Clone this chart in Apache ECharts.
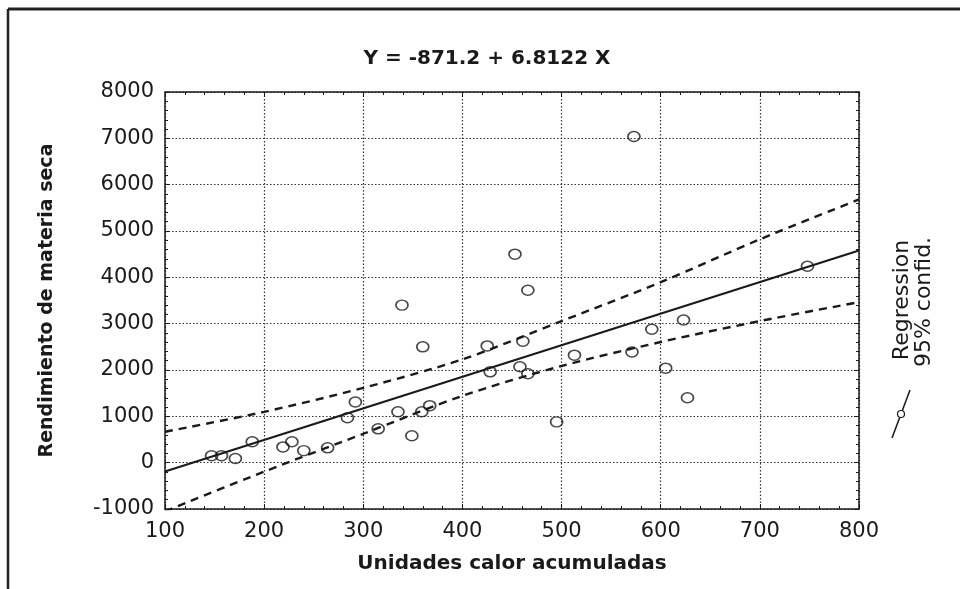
<!DOCTYPE html>
<html>
<head>
<meta charset="utf-8">
<script src="https://cdn.jsdelivr.net/npm/echarts@6/dist/echarts.min.js"></script>
<style>
  html, body { margin: 0; padding: 0; background: #fff; }
  #chart { width: 965px; height: 589px; }
</style>
</head>
<body>
<div id="chart"></div>
<script>
// puntos observados (unidades calor vs rendimiento)
var unidades = [147, 157, 171, 188, 219, 228, 240, 264, 284, 292, 315, 335, 339, 349, 359, 360, 367,
                425, 428, 453, 458, 461, 466, 466, 495, 513, 571, 573, 591, 605, 623, 627, 748];
var rendimiento = [150, 150, 90, 450, 340, 450, 260, 320, 970, 1310, 730, 1100, 3400, 580, 1100, 2500, 1230,
                   2520, 1960, 4500, 2070, 2620, 3720, 1920, 880, 2320, 2390, 7040, 2880, 2040, 3080, 1400, 4240];
// recta de regresion
var regX = [100, 800];
var regY = [-190, 4579];
// bandas de confianza 95%
var bandX = [100, 200, 300, 400, 500, 600, 700, 800];
var upperY = [667, 1097, 1614, 2230, 3056, 3895, 4820, 5681];
var lowerY = [-1050, -194, 624, 1442, 2087, 2604, 3056, 3465];

var titulo = 'Y = -871.2 + 6.8122 X';
var nombreX = 'Unidades calor acumuladas';
var nombreY = 'Rendimiento de materia seca';

function pares(xs, ys) {
    var out = [];
    for (var i = 0; i < xs.length; i++) out.push([xs[i], ys[i]]);
    return out;
}

var chart = echarts.init(document.getElementById('chart'));
var ink = '#1a1a1a';
var gridLine = { show: true, lineStyle: { color: '#333', type: [1.5, 2], width: 1.2 } };
var sinComa = function (v) { return String(v); };   // sin separador de miles

// eje "espejo" solo para el borde y las marcas de arriba/derecha
function espejo(base) {
    return Object.assign({
        type: 'value',
        axisLine: { show: true, onZero: false, lineStyle: { color: ink, width: 1.5 } },
        axisTick: { show: true, inside: true, length: 5, lineStyle: { color: ink } },
        minorTick: { show: true, splitNumber: 5, length: 3, lineStyle: { color: ink } },
        axisLabel: { show: false },
        splitLine: { show: false }
    }, base);
}

chart.setOption({
    backgroundColor: '#fff',
    animation: false,
    textStyle: { fontFamily: 'DejaVu Sans' },
    title: {
        text: titulo,
        left: 482,
        top: 44,
        textAlign: 'center',
        textStyle: { fontFamily: 'DejaVu Sans', fontWeight: 'bold', fontSize: 20, color: ink }
    },
    grid: { left: 165, right: 106, top: 92, bottom: 80 },
    xAxis: [{
        type: 'value',
        min: 100, max: 800, interval: 100,
        name: nombreX,
        nameLocation: 'middle',
        nameGap: 45,
        nameTextStyle: { fontFamily: 'DejaVu Sans', fontWeight: 'bold', fontSize: 20, color: ink },
        axisLine: { show: true, onZero: false, lineStyle: { color: ink, width: 1.5 } },
        axisTick: { show: true, inside: true, length: 5, lineStyle: { color: ink } },
        minorTick: { show: true, splitNumber: 5, length: 3, lineStyle: { color: ink } },
        axisLabel: { fontSize: 21, color: ink, margin: 12, formatter: sinComa },
        splitLine: gridLine
    }, espejo({ position: 'top', min: 100, max: 800, interval: 100 })],
    yAxis: [{
        type: 'value',
        min: -1000, max: 8000, interval: 1000,
        name: nombreY,
        nameLocation: 'middle',
        nameGap: 108,
        nameTextStyle: { fontFamily: 'DejaVu Sans', fontWeight: 'bold', fontSize: 19, color: ink },
        axisLine: { show: true, onZero: false, lineStyle: { color: ink, width: 1.5 } },
        axisTick: { show: true, inside: true, length: 5, lineStyle: { color: ink } },
        minorTick: { show: true, splitNumber: 5, length: 3, lineStyle: { color: ink } },
        axisLabel: { fontSize: 21, color: ink, margin: 11, formatter: sinComa },
        splitLine: gridLine
    }, espejo({ position: 'right', min: -1000, max: 8000, interval: 1000 })],
    series: [
        {
            name: 'upper',
            type: 'line',
            data: pares(bandX, upperY),
            smooth: 0.3,
            symbol: 'none',
            clip: true,
            lineStyle: { color: ink, width: 2.4, type: [8, 6] }
        },
        {
            name: 'lower',
            type: 'line',
            data: pares(bandX, lowerY),
            smooth: 0.3,
            symbol: 'none',
            clip: true,
            lineStyle: { color: ink, width: 2.4, type: [8, 6] }
        },
        {
            name: 'Regression',
            type: 'line',
            data: pares(regX, regY),
            symbol: 'none',
            lineStyle: { color: ink, width: 2.2 }
        },
        {
            name: 'datos',
            type: 'scatter',
            data: pares(unidades, rendimiento),
            symbol: 'circle',
            symbolSize: [12, 10],
            z: 5,
            itemStyle: { color: 'rgba(255,255,255,0)', borderColor: ink, borderWidth: 1.6 }
        }
    ],
    graphic: [
        // marco exterior (solo arriba e izquierda visibles)
        { type: 'line', shape: { x1: 8, y1: 9, x2: 960, y2: 9 }, style: { stroke: '#222', lineWidth: 3 } },
        { type: 'line', shape: { x1: 8, y1: 9, x2: 8, y2: 589 }, style: { stroke: '#222', lineWidth: 2.5 } },
        // leyenda girada
        { type: 'line', shape: { x1: 892, y1: 438, x2: 910, y2: 390 }, style: { stroke: ink, lineWidth: 1.5 } },
        { type: 'circle', shape: { cx: 901, cy: 414, r: 3.5 }, style: { fill: '#fff', stroke: ink, lineWidth: 1.2 } },
        {
            type: 'text', x: 902, y: 300, rotation: Math.PI / 2,
            style: { text: 'Regression', font: '22px "DejaVu Sans"', fill: ink, align: 'center', verticalAlign: 'middle' }
        },
        {
            type: 'text', x: 924, y: 302, rotation: Math.PI / 2,
            style: { text: '95% confid.', font: '22px "DejaVu Sans"', fill: ink, align: 'center', verticalAlign: 'middle' }
        }
    ]
});
window.addEventListener('resize', function () { chart.resize(); });
</script>
</body>
</html>
